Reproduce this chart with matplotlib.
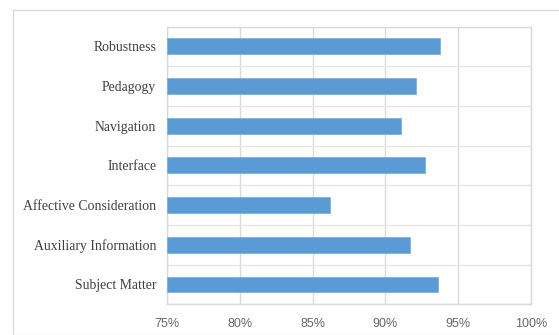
import matplotlib
matplotlib.use("Agg")
import matplotlib.pyplot as plt
from matplotlib.patches import Rectangle
import numpy as np

categories = ["Subject Matter", "Auxiliary Information", "Affective Consideration",
              "Interface", "Navigation", "Pedagogy", "Robustness"]
values = [93.6, 91.7, 86.2, 92.7, 91.05, 92.1, 93.75]
xticks = [75, 80, 85, 90, 95, 100]
xticklabels = ["75%", "80%", "85%", "90%", "95%", "100%"]

W, H = 559, 335
fig = plt.figure(figsize=(W/100, H/100), dpi=100)
fig.patch.set_facecolor("white")

# outer chart border
fig.patches.append(Rectangle((13/W, 0), 1, 1 - 9.5/H, transform=fig.transFigure,
                             fill=False, edgecolor="#d9d9d9", linewidth=1.0, zorder=0))

ax = fig.add_axes([167.3/W, 1 - 304.3/H, (530.7-167.3)/W, (304.3-26.5)/H])
y = np.arange(len(categories))
ax.barh(y, [v - 75 for v in values], left=75, height=0.4, color="#5b9bd5",
        edgecolor="#7fb0de", linewidth=0.6, zorder=3)

ax.set_xlim(75, 100)
ax.set_ylim(-0.5, len(categories) - 0.5)
ax.set_xticks(xticks)
ax.set_xticklabels(xticklabels, fontsize=9, color="#666666", family="Liberation Sans")
ax.set_yticks(y)
ax.set_yticklabels(categories, fontsize=9.9, color="#404040", family="Liberation Serif")
ax.set_yticks(np.arange(-0.5, len(categories), 1), minor=True)
ax.tick_params(axis="both", which="both", length=0)
ax.tick_params(axis="x", pad=10)
ax.tick_params(axis="y", pad=8)
ax.grid(axis="x", which="major", color="#d9d9d9", linewidth=1.0, zorder=0)
ax.grid(axis="y", which="minor", color="#e6e6e6", linewidth=1.0, zorder=0)
for s in ax.spines.values():
    s.set_color("#d9d9d9")
    s.set_linewidth(1.0)

fig.savefig("out.png", dpi=100)
